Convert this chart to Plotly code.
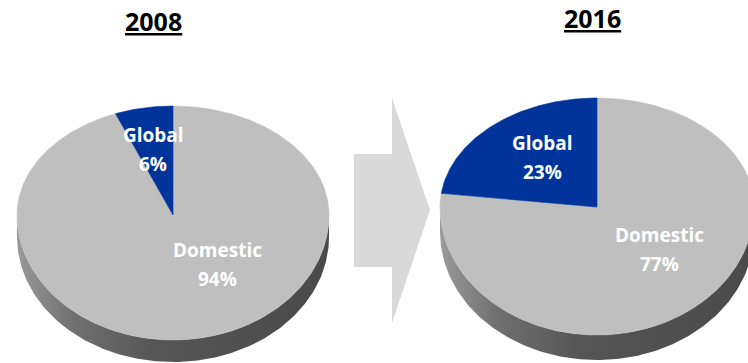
import numpy as np
import plotly.graph_objects as go

# ---- data ----
years = ["2008", "2016"]
categories = ["Global", "Domestic"]
global_share = [6, 23]
domestic_share = [94, 77]

colors = {"Global": "#00349a", "Domestic": "#bfbfbf"}

# ---- layout geometry (pixel space) ----
pies = [
    dict(cx=173, cy=215, rx=156, ry_up=109, ry_down=125, depth=22,
         title_xy=(153, 21),
         label_xy={"Global": (153, 135, 164), "Domestic": (217, 250, 279)}),
    dict(cx=597, cy=207, rx=157, ry_up=109, ry_down=128, depth=25,
         title_xy=(592, 18),
         label_xy={"Global": (542, 143, 172), "Domestic": (659, 235, 264)}),
]
W, H = 748, 363


def pt(p, theta):
    t = np.radians(theta)
    c = np.cos(t)
    ry = np.where(c >= 0, p["ry_up"], p["ry_down"])
    return p["cx"] + p["rx"] * np.sin(t), p["cy"] - ry * c


fig = go.Figure()
annotations = []

for i, p in enumerate(pies):
    g = global_share[i]
    d = domestic_share[i]
    total = g + d
    # side band (lower half of ellipse extruded)
    th = np.linspace(90, 270, 181)
    xs, ys = pt(p, th)
    side_x = np.concatenate([xs, xs[::-1]])
    side_y = np.concatenate([ys, ys[::-1] + p["depth"]])
    fig.add_trace(go.Scatter(
        x=side_x, y=side_y, mode="lines", fill="toself",
        line=dict(width=0, color="#555555"),
        fillgradient=dict(type="horizontal",
                          colorscale=[[0, "#9a9a9a"], [0.18, "#707070"],
                                      [0.45, "#555555"], [1, "#4a4a4a"]]),
        hoverinfo="skip", showlegend=False))
    # slices: Global counterclockwise from top, Domestic clockwise from top
    split = 360 * d / total
    spans = {"Domestic": (0, split), "Global": (split, 360)}
    for cat in ["Domestic", "Global"]:
        a0, a1 = spans[cat]
        th = np.linspace(a0, a1, max(int(a1 - a0) * 2, 10))
        xs, ys = pt(p, th)
        sx = np.concatenate([[p["cx"]], xs, [p["cx"]]])
        sy = np.concatenate([[p["cy"]], ys, [p["cy"]]])
        fig.add_trace(go.Scatter(
            x=sx, y=sy, mode="lines", fill="toself", fillcolor=colors[cat],
            line=dict(width=0.6, color=colors[cat]),
            hoverinfo="skip", showlegend=False))
    # labels
    vals = {"Global": g, "Domestic": d}
    for cat in categories:
        lx, ly1, ly2 = p["label_xy"][cat]
        for txt, ly in [(cat, ly1), (f"{vals[cat]}%", ly2)]:
            annotations.append(dict(
                x=lx, y=ly, xref="x", yref="y", text=f"<b>{txt}</b>",
                showarrow=False, font=dict(family="Open Sans", size=19, color="white"),
                xanchor="center", yanchor="middle"))
    # title
    tx, ty = p["title_xy"]
    annotations.append(dict(
        x=tx, y=ty, xref="x", yref="y", text=f"<b><u>{years[i]}</u></b>",
        showarrow=False, font=dict(family="Open Sans", size=25, color="black"),
        xanchor="center", yanchor="middle"))

arrow = dict(type="path", xref="x", yref="y", layer="below",
             path="M354,154 L392,154 L392,98 L430,210 L392,323 L392,267 L354,267 Z",
             fillcolor="#d9d9d9", line=dict(width=0))

fig.update_layout(
    width=W, height=H,
    margin=dict(l=0, r=0, t=0, b=0),
    paper_bgcolor="white", plot_bgcolor="white",
    xaxis=dict(range=[0, W], visible=False, fixedrange=True),
    yaxis=dict(range=[H, 0], visible=False, fixedrange=True),
    shapes=[arrow],
    annotations=annotations,
    showlegend=False,
)

fig.write_html("out.html", config={"displayModeBar": False},
               post_script="document.body.style.margin='0';document.body.style.overflow='hidden';")
